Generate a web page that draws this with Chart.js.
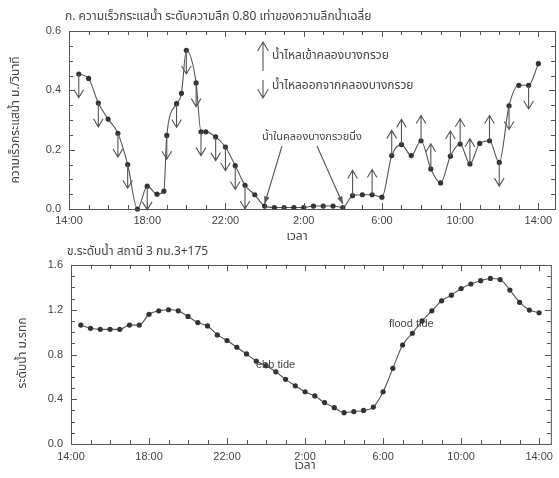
<!DOCTYPE html>
<html>
<head>
<meta charset="utf-8">
<script src="https://cdn.jsdelivr.net/npm/chart.js@4.4.1/dist/chart.umd.min.js"></script>
<style>
  body { margin: 0; background: #fff; }
  canvas { position: absolute; left: 0; }
  #velChart { top: 0; }
  #levelChart { top: 240px; }
</style>
</head>
<body>
<canvas id="velChart" width="559" height="240"></canvas>
<canvas id="levelChart" width="559" height="238"></canvas>
<script>
// time is hours after 14:00 of day 1
const xTickHours = [0, 4, 8, 12, 16, 20, 24];
const xTickLabels = ['14:00', '18:00', '22:00', '2:00', '6:00', '10:00', '14:00'];

// ก. current velocity at 0.8 depth
const velTime = [0.5, 1, 1.5, 2, 2.5, 3, 3.5, 4, 4.5, 4.85, 5, 5.5, 5.75, 6, 6.5, 6.75, 7, 7.5, 8, 8.5,
  9, 9.5, 10, 10.5, 11, 11.5, 12, 12.5, 13, 13.5, 14, 14.5, 15, 15.5, 16, 16.5, 17, 17.5, 18, 18.5,
  19, 19.5, 20, 20.5, 21, 21.5, 22, 22.5, 23, 23.5, 24];
const velValue = [0.455, 0.44, 0.357, 0.303, 0.255, 0.15, 0.0, 0.077, 0.05, 0.06, 0.248, 0.355, 0.39, 0.535, 0.425, 0.26, 0.26, 0.243, 0.209, 0.146,
  0.08, 0.048, 0.01, 0.005, 0.005, 0.005, 0.005, 0.01, 0.01, 0.01, 0.005, 0.045, 0.048, 0.048, 0.04, 0.18, 0.217, 0.18, 0.23, 0.135,
  0.088, 0.178, 0.219, 0.152, 0.221, 0.23, 0.157, 0.348, 0.417, 0.417, 0.49];
// flow direction at each point: u = into the canal, d = out of the canal
const velFlow = ['d', '', 'd', '', 'd', 'd', '', 'd', '', '', 'd', 'd', '', 'd', 'd', 'd', '', 'd', 'd', 'd',
  'd', '', '', '', '', '', '', '', '', '', '', 'u', '', 'u', '', 'u', 'u', '', 'u', 'u',
  '', 'u', 'u', 'u', '', 'u', 'd', 'd', '', 'd', ''];
const velTicks = [0, 0.2, 0.4, 0.6];

// ข. water level, station 3
const levelTime = [0.5, 1, 1.5, 2, 2.5, 3, 3.5, 4, 4.5, 5, 5.5, 6, 6.5, 7, 7.5, 8, 8.5, 9, 9.5, 10,
  10.5, 11, 11.5, 12, 12.5, 13, 13.5, 14, 14.5, 15, 15.5, 16, 16.5, 17, 17.5, 18, 18.5, 19, 19.5, 20,
  20.5, 21, 21.5, 22, 22.5, 23, 23.5, 24];
const levelValue = [1.063, 1.034, 1.025, 1.025, 1.025, 1.063, 1.063, 1.16, 1.19, 1.2, 1.19, 1.14, 1.085, 1.055, 0.975, 0.925, 0.865, 0.805, 0.74, 0.7,
  0.645, 0.578, 0.52, 0.467, 0.43, 0.37, 0.325, 0.28, 0.29, 0.3, 0.33, 0.467, 0.676, 0.885, 0.99, 1.1, 1.19, 1.28, 1.33, 1.39,
  1.43, 1.46, 1.48, 1.47, 1.376, 1.266, 1.197, 1.173];
const levelTicks = [0, 0.4, 0.8, 1.2, 1.6];

const INK = '#444';
const LINE = '#555';
const THAI = '"Noto Sans Thai", "Noto Sans", Tahoma, sans-serif';
const LATIN = '"Liberation Sans", Arial, sans-serif';

// frame with inward major/minor ticks, like the original plot
const frameTicks = {
  id: 'frameTicks',
  afterDraw(chart, args, o) {
    const { ctx, chartArea: a, scales: { x, y } } = chart;
    ctx.save();
    ctx.strokeStyle = LINE;
    ctx.lineWidth = 1;
    ctx.strokeRect(a.left + 0.5, a.top + 0.5, a.right - a.left, a.bottom - a.top);
    ctx.beginPath();
    for (let h = 0; h <= x.max; h += 1) {
      const px = Math.round(x.getPixelForValue(h)) + 0.5;
      const len = h % 4 === 0 ? 6 : 4;
      ctx.moveTo(px, a.bottom); ctx.lineTo(px, a.bottom - len);
      ctx.moveTo(px, a.top); ctx.lineTo(px, a.top + len);
    }
    for (let i = 0; i * o.minorY <= y.max + 1e-9; i++) {
      const v = i * o.minorY;
      const py = Math.round(y.getPixelForValue(v)) + 0.5;
      const len = i % o.perMajor === 0 ? 6 : 4;
      ctx.moveTo(a.left, py); ctx.lineTo(a.left + len, py);
      ctx.moveTo(a.right, py); ctx.lineTo(a.right - len, py);
    }
    ctx.stroke();
    ctx.restore();
  }
};

function arrow(ctx, x, y0, y1, head) {
  const dir = y1 < y0 ? 1 : -1;
  ctx.beginPath();
  ctx.moveTo(x, y0); ctx.lineTo(x, y1);
  ctx.moveTo(x - head * 0.6, y1 + dir * head); ctx.lineTo(x, y1); ctx.lineTo(x + head * 0.6, y1 + dir * head);
  ctx.stroke();
}

function pointerArrow(ctx, x0, y0, x1, y1) {
  const ang = Math.atan2(y1 - y0, x1 - x0);
  ctx.beginPath();
  ctx.moveTo(x0, y0); ctx.lineTo(x1, y1);
  ctx.stroke();
  ctx.beginPath();
  ctx.moveTo(x1, y1);
  ctx.lineTo(x1 - 8 * Math.cos(ang - 0.35), y1 - 8 * Math.sin(ang - 0.35));
  ctx.lineTo(x1 - 8 * Math.cos(ang + 0.35), y1 - 8 * Math.sin(ang + 0.35));
  ctx.closePath();
  ctx.fill();
}

function text(ctx, s, x, y, font, align, rot) {
  ctx.save();
  ctx.translate(x, y);
  if (rot) ctx.rotate(rot);
  ctx.font = font;
  ctx.fillStyle = INK;
  ctx.textAlign = align || 'left';
  ctx.textBaseline = 'middle';
  ctx.fillText(s, 0, 0);
  ctx.restore();
}

// flow arrows, legend and notes for the velocity chart
const velExtras = {
  id: 'velExtras',
  afterDatasetsDraw(chart) {
    const { ctx, scales: { x, y } } = chart;
    ctx.save();
    ctx.strokeStyle = LINE;
    ctx.fillStyle = LINE;
    ctx.lineWidth = 1.1;
    velFlow.forEach((f, i) => {
      if (!f) return;
      const px = x.getPixelForValue(velTime[i]);
      const py = y.getPixelForValue(velValue[i]);
      const tip = y.getPixelForValue(velValue[i] + (f === 'u' ? 0.085 : -0.08));
      arrow(ctx, px, py, tip, 8);
    });
    // legend
    arrow(ctx, 263, 71, 42, 9);
    arrow(ctx, 263, 80, 98, 9);
    // still-water pointers
    pointerArrow(ctx, 282, 146, x.getPixelForValue(10), y.getPixelForValue(0.01) - 2);
    pointerArrow(ctx, 317, 146, x.getPixelForValue(14), y.getPixelForValue(0.01) - 2);
    ctx.restore();
    text(ctx, 'น้ำไหลเข้าคลองบางกรวย', 272, 57, '12px ' + THAI);
    text(ctx, 'น้ำไหลออกจากคลองบางกรวย', 272, 87, '12px ' + THAI);
    text(ctx, 'น้ำในคลองบางกรวยนิ่ง', 262, 138, '11px ' + THAI);
    text(ctx, 'ก. ความเร็วกระแสน้ำ ระดับความลึก 0.80 เท่าของความลึกน้ำเฉลี่ย', 65, 18, '12px ' + THAI);
    text(ctx, 'ความเร็วกระแสน้ำ ม./วินาที', 17, 120, '12px ' + THAI, 'center', -Math.PI / 2);
    text(ctx, 'เวลา', 297, 238, '12px ' + THAI, 'center');
  }
};

const levelExtras = {
  id: 'levelExtras',
  afterDatasetsDraw(chart) {
    const { ctx } = chart;
    text(ctx, 'ข.ระดับน้ำ สถานี 3 กม.3+175', 67, 13, '12px ' + THAI);
    text(ctx, 'ระดับน้ำ ม.รทก', 24, 113, '12px ' + THAI, 'center', -Math.PI / 2);
    text(ctx, 'เวลา', 305, 227, '12px ' + THAI, 'center');
    text(ctx, 'ebb tide', 256, 125, '11px ' + LATIN);
    text(ctx, 'flood tide', 389, 84, '11px ' + LATIN);
  }
};

function makeChart(id, xs, ys, yTicks, yMax, area, extras, minorY, perMajor) {
  return new Chart(document.getElementById(id).getContext('2d'), {
    type: 'line',
    data: {
      datasets: [{
        data: xs.map((t, i) => ({ x: t, y: ys[i] })),
        borderColor: LINE,
        borderWidth: 1.1,
        pointRadius: 2.6,
        pointBackgroundColor: '#333',
        pointBorderColor: '#333',
        pointBorderWidth: 0,
        cubicInterpolationMode: 'monotone',
        clip: false
      }]
    },
    options: {
      responsive: false,
      animation: false,
      events: [],
      layout: { padding: { left: 0, top: area.top, right: 559 - area.right, bottom: 0 } },
      plugins: { legend: { display: false }, tooltip: { enabled: false }, frameTicks: { minorY, perMajor } },
      scales: {
        x: {
          type: 'linear',
          min: 0,
          max: area.xMax,
          afterFit: s => { s.height = area.h - area.bottom; },
          afterBuildTicks: s => { s.ticks = xTickHours.map(v => ({ value: v })); },
          grid: { display: false, drawTicks: false },
          border: { display: false },
          ticks: {
            padding: area.xPad,
            color: INK,
            font: { family: LATIN, size: 11 },
            maxRotation: 0,
            callback: v => xTickLabels[xTickHours.indexOf(v)]
          }
        },
        y: {
          min: 0,
          max: yMax,
          afterFit: s => { s.width = area.left; },
          afterBuildTicks: s => { s.ticks = yTicks.map(v => ({ value: v })); },
          grid: { display: false, drawTicks: false },
          border: { display: false },
          ticks: {
            padding: 8,
            color: INK,
            font: { family: LATIN, size: 11 },
            callback: v => v.toFixed(1)
          }
        }
      }
    },
    plugins: [frameTicks, extras]
  });
}

makeChart('velChart', velTime, velValue, velTicks, 0.6,
  { left: 69, top: 31, right: 557, bottom: 209, h: 240, xMax: 24.85, xPad: 5 }, velExtras, 0.05, 4);
makeChart('levelChart', levelTime, levelValue, levelTicks, 1.6,
  { left: 71, top: 25, right: 557, bottom: 204, h: 238, xMax: 24.6, xPad: 6 }, levelExtras, 0.1, 4);
</script>
</body>
</html>
